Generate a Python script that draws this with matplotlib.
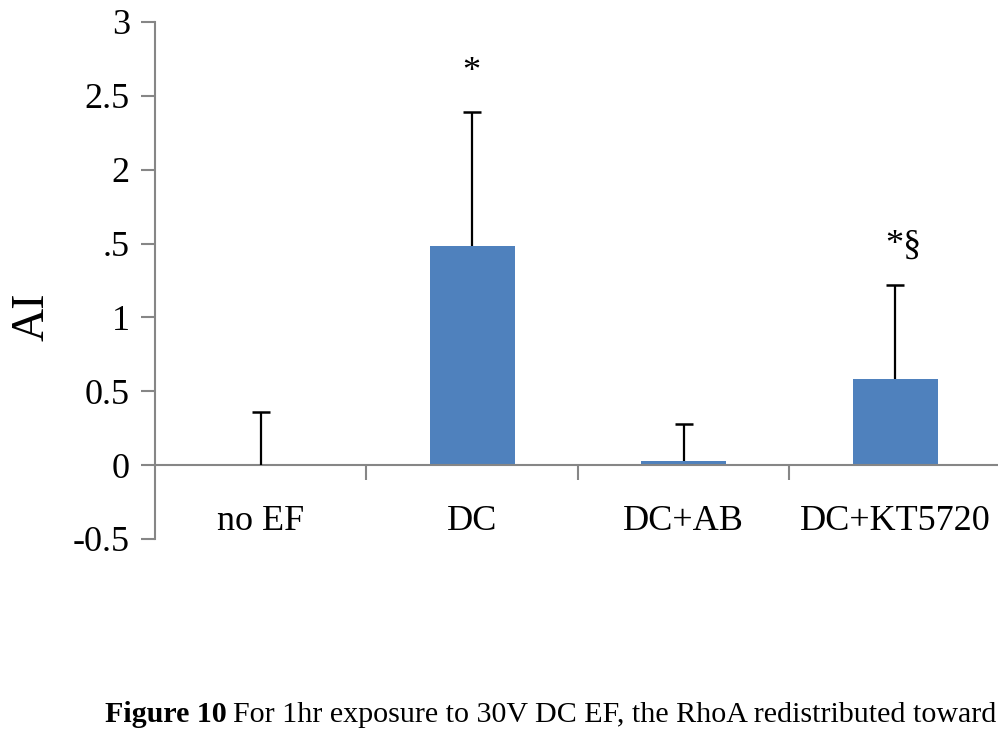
import matplotlib as mpl
mpl.use('Agg')
import matplotlib.pyplot as plt

# data
categories = ['no EF', 'DC', 'DC+AB', 'DC+KT5720']
means      = [0.0, 1.48, 0.03, 0.58]
errors     = [0.36, 0.91, 0.25, 0.64]
marks      = ['', '*', '', '*§']
yticks     = [-0.5, 0, 0.5, 1, 1.5, 2, 2.5, 3]
ytick_text = ['-0.5', '0', '0.5', '1', '.5', '2', '2.5', '3']

plt.rcParams['font.family'] = ['Liberation Serif', 'DejaVu Serif']

fig = plt.figure(figsize=(9.98, 7.37), dpi=100)
ax = fig.add_axes([0.1553, 0.2687, 0.8477, 0.7015])

x = list(range(len(categories)))
tops = [m + e for m, e in zip(means, errors)]
ax.bar(x, means, width=0.4, color='#4F81BD', zorder=2)
# one-sided error bars, cap on top only
ax.vlines(x, means, tops, color='black', linewidth=1.6, zorder=3)
ax.plot(x, tops, linestyle='none', marker='_', markersize=13,
        markeredgewidth=1.8, color='black', zorder=3)

ax.set_xlim(-0.5, len(categories) - 0.5)
ax.set_ylim(-0.5, 3)
ax.set_yticks(yticks)
ax.set_yticklabels(ytick_text)
ax.set_ylabel('AI', fontsize=33, va='center', ha='center')
ax.yaxis.set_label_coords(-0.145, 0.43)

# axes look
grey = '#868686'
for s in ['top', 'right']:
    ax.spines[s].set_visible(False)
ax.spines['left'].set_color(grey)
ax.spines['left'].set_linewidth(1.5)
ax.spines['bottom'].set_position(('data', 0))
ax.spines['bottom'].set_color(grey)
ax.spines['bottom'].set_linewidth(1.5)
ax.set_xticks([i + 0.5 for i in x[:-1]])
ax.set_xticklabels([])
ax.tick_params(axis='x', direction='out', length=11, width=1.5, color=grey)
ax.tick_params(axis='y', direction='out', length=10, width=1.5, color=grey,
               labelsize=26, pad=8)

for xi, name in zip(x, categories):
    ax.text(xi, -0.38, name, ha='center', va='center', fontsize=26)

for xi, t, top in zip(x, marks, tops):
    if t:
        ax.text(xi - 0.045, top + 0.21, t, ha='left', va='baseline', fontsize=26)

# caption
fig.canvas.draw()
cap1 = fig.text(105 / 998, 1 - 715 / 737, 'Figure 10', fontsize=21.6,
                fontweight='bold', va='center', ha='left')
fig.canvas.draw()
bb = cap1.get_window_extent()
fig.text((bb.x1 + 6) / 998, 1 - 715 / 737,
         'For 1hr exposure to 30V DC EF, the RhoA redistributed toward',
         fontsize=21.6, va='center', ha='left')

plt.savefig('out.png', dpi=100)
